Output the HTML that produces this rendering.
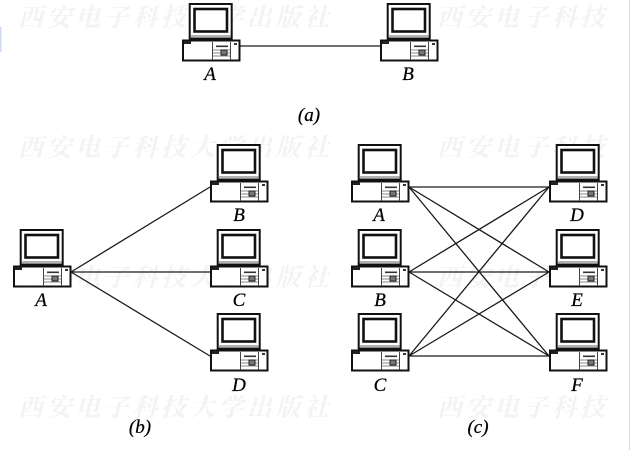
<!DOCTYPE html>
<html><head><meta charset="utf-8"><style>
html,body{margin:0;padding:0;background:#fff}
svg{display:block;filter:blur(.3px)}
.w{font:italic 700 25px "Noto Serif CJK SC","Noto Sans CJK SC",serif;fill:#f3f3f3;letter-spacing:3.6px}
.l{font:italic 19px "Liberation Serif",serif;fill:#000;stroke:#000;stroke-width:.25px;text-anchor:middle}
</style></head><body>
<svg width="634" height="450" viewBox="0 0 634 450" xmlns="http://www.w3.org/2000/svg">
<defs>
<g id="pc">
<rect x="7.7" y="1" width="42" height="34.5" fill="#fff" stroke="#111" stroke-width="2"/>
<rect x="12.5" y="6" width="32.5" height="22.5" fill="#fff" stroke="#111" stroke-width="2.6"/>
<path d="M8 33H49" stroke="#666" stroke-width="1"/>
<path d="M9 36.5H49" stroke="#111" stroke-width="1.6"/>
<rect x="1" y="37.5" width="56.5" height="20" fill="#fff" stroke="#111" stroke-width="2"/>
<rect x="2" y="38" width="7" height="3" fill="#222"/>
<rect x="30" y="39" width="1" height="18" fill="#444"/>
<rect x="48" y="39" width="1" height="18" fill="#444"/>
<path d="M31 47H48M31 50H48M31 53H48" stroke="#888" stroke-width="1"/>
<rect x="34" y="42.5" width="12" height="1.6" fill="#333"/>
<rect x="39" y="47" width="6" height="5" fill="#777" stroke="#222" stroke-width="1"/>
<rect x="52" y="40" width="3" height="2" fill="#333"/>
</g>
</defs>
<rect x="629" y="0" width="1" height="450" fill="#ddd"/>
<rect x="0" y="27" width="1.5" height="25" fill="#cfd8f5"/>
<g class="w">
<text x="18" y="26">西安电子科技大学出版社</text>
<text x="18" y="156">西安电子科技大学出版社</text>
<text x="18" y="286">西安电子科技大学出版社</text>
<text x="18" y="416">西安电子科技大学出版社</text>
<text x="437" y="26">西安电子科技</text>
<text x="437" y="156">西安电子科技</text>
<text x="437" y="286">西安电子科技</text>
<text x="437" y="416">西安电子科技</text>
</g>
<g stroke="#1a1a1a" stroke-width="1.3" fill="none">
<path d="M240 46H380"/>
<path d="M71 272L210 187M71 272H210M71 272L210 356"/>
<path d="M409 187H549M409 187L549 272M409 187L549 356"/>
<path d="M409 272L549 187M409 272H549M409 272L549 356"/>
<path d="M409 356L549 187M409 356L549 272M409 356H549"/>
</g>
<use href="#pc" x="182" y="3"/>
<use href="#pc" x="380" y="3"/>
<use href="#pc" x="210" y="144"/>
<use href="#pc" x="210" y="229"/>
<use href="#pc" x="210" y="313"/>
<use href="#pc" x="13" y="229"/>
<use href="#pc" x="351" y="144"/>
<use href="#pc" x="351" y="229"/>
<use href="#pc" x="351" y="313"/>
<use href="#pc" x="549" y="144"/>
<use href="#pc" x="549" y="229"/>
<use href="#pc" x="549" y="313"/>
<g class="l">
<text x="210" y="80">A</text>
<text x="408" y="80">B</text>
<text x="309" y="121">(<tspan>a</tspan>)</text>
<text x="239" y="221">B</text>
<text x="239" y="306">C</text>
<text x="239" y="391">D</text>
<text x="41" y="306">A</text>
<text x="140" y="433">(b)</text>
<text x="379" y="221">A</text>
<text x="380" y="306">B</text>
<text x="380" y="391">C</text>
<text x="577" y="221">D</text>
<text x="577" y="306">E</text>
<text x="577" y="391">F</text>
<text x="478" y="433">(c)</text>
</g>
</svg>
</body></html>
